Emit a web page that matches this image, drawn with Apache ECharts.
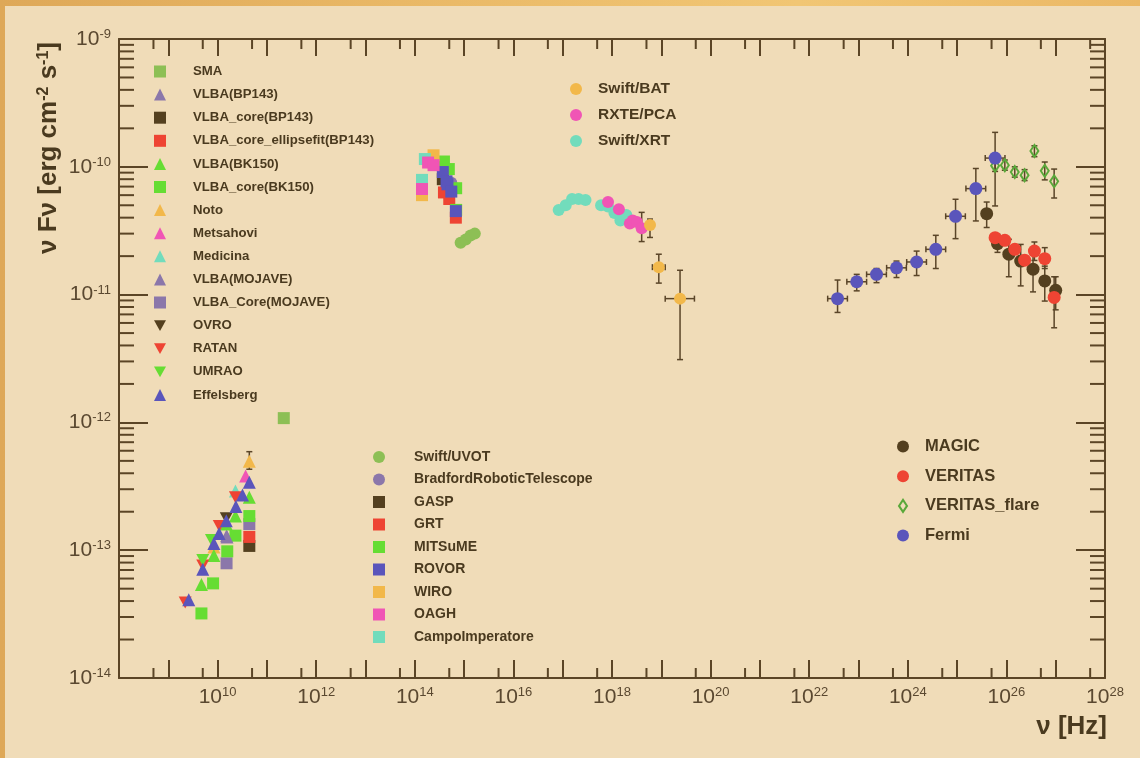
<!DOCTYPE html>
<html>
<head>
<meta charset="utf-8">
<script src="https://cdn.jsdelivr.net/npm/echarts@6/dist/echarts.min.js"></script>
<style>
  html, body { margin: 0; padding: 0; width: 1140px; height: 758px; overflow: hidden;
    background: linear-gradient(90deg, #dea858 0%, #e9b866 35%, #f1c674 70%, #ebb865 100%); }
  #chart { position: absolute; left: 5px; top: 6px; width: 1135px; height: 752px; background: #f0dcb8; }
</style>
</head>
<body>
<div id="chart"></div>
<script>
// ---- Spectral energy distribution: [nu (Hz), nuFnu (erg cm^-2 s^-1)] ----
// Rows with error bars: [nu, nuFnu, nuLow, nuHigh, fluxLow, fluxHigh] (null = no bar)

// Radio / mm
const SMA = [[2.2e11, 1.08e-12]];
const VLBA_BP143 = [[1.52e10, 1.30e-13]];
const VLBA_core_BP143 = [[4.4e10, 1.08e-13]];
const VLBA_core_ellipsefit_BP143 = [[4.4e10, 1.27e-13]];
const VLBA_BK150 = [[4.4e10, 2.6e-13], [2.3e10, 1.85e-13], [1.5e10, 1.6e-13], [8.4e9, 9.1e-14], [4.7e9, 5.4e-14]];
const VLBA_core_BK150 = [[4.4e10, 1.85e-13], [2.3e10, 1.3e-13], [1.57e10, 9.8e-14], [8.1e9, 5.5e-14], [4.7e9, 3.2e-14]];
const Noto = [[4.4e10, 4.96e-13, null, null, 4.3e-13, 5.9e-13], [8.4e9, 1.06e-13]];
const Metsahovi = [[3.7e10, 3.8e-13]];
const Medicina = [[2.3e10, 2.9e-13]];
const VLBA_MOJAVE = [[1.55e10, 1.27e-13]];
const VLBA_Core_MOJAVE = [[4.4e10, 1.6e-13], [1.52e10, 7.9e-14]];
const OVRO = [[1.5e10, 1.78e-13]];
const RATAN = [[2.3e10, 2.6e-13], [1.08e10, 1.55e-13], [5.0e9, 7.6e-14], [2.2e9, 3.9e-14]];
const UMRAO = [[7.5e9, 1.2e-13], [5.0e9, 8.4e-14]];
const Effelsberg = [[4.4e10, 3.4e-13], [3.2e10, 2.7e-13], [2.35e10, 2.2e-13], [1.5e10, 1.7e-13],
                    [1.07e10, 1.35e-13], [8.4e9, 1.13e-13], [5.0e9, 7.1e-14], [2.6e9, 4.1e-14]];

// Optical / UV
const Swift_UVOT = [[8.5e14, 2.55e-11], [1.08e15, 2.7e-11], [1.35e15, 2.9e-11], [1.65e15, 3.0e-11]];
const Bradford = [[5.5e14, 7.5e-11]];
const GASP = [[3.7e14, 8.0e-11], [4.9e14, 6.6e-11]];
const GRT = [[3.9e14, 6.3e-11], [5.0e14, 5.6e-11], [6.8e14, 4.0e-11]];
const MITSuME = [[3.9e14, 1.1e-10], [4.9e14, 9.6e-11], [6.9e14, 6.8e-11], [6.9e14, 4.6e-11]];
const ROVOR = [[3.7e14, 9.1e-11], [4.4e14, 7.7e-11], [4.6e14, 7.3e-11], [5.5e14, 6.4e-11], [6.8e14, 4.5e-11]];
const WIRO = [[2.4e14, 1.23e-10], [1.4e14, 6.0e-11]];
const OAGH = [[1.4e14, 6.7e-11], [1.86e14, 1.08e-10], [2.4e14, 1.03e-10]];
const CampoImperatore = [[1.4e14, 7.9e-11], [1.6e14, 1.15e-10]];

// X-ray
const Swift_XRT = [[8.3e16, 4.6e-11], [1.15e17, 5.0e-11], [1.55e17, 5.6e-11], [2.1e17, 5.6e-11], [2.9e17, 5.5e-11],
                   [6.0e17, 5.0e-11], [8.3e17, 4.9e-11], [1.12e18, 4.35e-11], [1.48e18, 3.8e-11], [1.95e18, 4.2e-11]];
const RXTE_PCA = [[8.3e17, 5.3e-11], [1.38e18, 4.65e-11], [2.3e18, 3.6e-11], [2.63e18, 3.8e-11], [3.2e18, 3.7e-11],
                  [4.0e18, 3.3e-11, null, null, 2.6e-11, 4.4e-11]];
const Swift_BAT = [[5.9e18, 3.5e-11, null, null, 2.8e-11, 3.9e-11],
                   [8.9e18, 1.64e-11, 6.6e18, 1.2e19, 1.23e-11, 2.07e-11],
                   [2.4e19, 9.3e-12, 1.2e19, 4.7e19, 3.1e-12, 1.55e-11]];

// Gamma-ray
const MAGIC = [[3.98e25, 4.3e-11, null, null, 3.35e-11, 5.3e-11],
               [6.6e25, 2.5e-11, null, null, 2.14e-11, 2.96e-11],
               [1.12e26, 2.07e-11, null, null, 1.38e-11, 2.71e-11],
               [1.95e26, 1.83e-11, null, null, 1.17e-11, 2.47e-11],
               [3.47e26, 1.58e-11, null, null, 1.05e-11, 2.07e-11],
               [6.0e26, 1.28e-11, null, null, 8.9e-12, 1.67e-11],
               [1.0e27, 1.08e-11, null, null, 7.6e-12, 1.38e-11]];
const VERITAS = [[5.9e25, 2.79e-11], [9.3e25, 2.66e-11], [1.48e26, 2.26e-11], [2.34e26, 1.86e-11],
                 [3.7e26, 2.19e-11, null, null, 1.85e-11, 2.58e-11],
                 [6.0e26, 1.91e-11, null, null, 1.6e-11, 2.33e-11],
                 [9.3e26, 9.5e-12, null, null, 5.5e-12, 1.38e-11]];
const VERITAS_flare = [[5.9e25, 1.02e-10, null, null, 9.2e-11, 1.13e-10],
                       [9.3e25, 1.03e-10, null, null, 9.4e-11, 1.13e-10],
                       [1.48e26, 9.1e-11, null, null, 8.3e-11, 1.0e-10],
                       [2.34e26, 8.6e-11, null, null, 7.8e-11, 9.5e-11],
                       [3.7e26, 1.33e-10, null, null, 1.2e-10, 1.46e-10],
                       [6.0e26, 9.3e-11, null, null, 7.9e-11, 1.09e-10],
                       [9.3e26, 7.7e-11, null, null, 5.7e-11, 9.6e-11]];
const Fermi = [[3.76e22, 9.3e-12, 2.37e22, 5.96e22, 7.25e-12, 1.30e-11],
               [9.2e22, 1.26e-11, 5.8e22, 1.46e23, 1.07e-11, 1.44e-11],
               [2.32e23, 1.44e-11, 1.46e23, 3.68e23, 1.24e-11, 1.60e-11],
               [5.9e23, 1.62e-11, 3.72e23, 9.35e23, 1.36e-11, 1.83e-11],
               [1.51e24, 1.80e-11, 9.5e23, 2.39e24, 1.41e-11, 2.19e-11],
               [3.7e24, 2.26e-11, 2.33e24, 5.86e24, 1.60e-11, 2.91e-11],
               [9.3e24, 4.10e-11, 5.87e24, 1.47e25, 2.74e-11, 5.57e-11],
               [2.4e25, 6.75e-11, 1.51e25, 3.80e25, 3.77e-11, 9.70e-11],
               [5.9e25, 1.17e-10, 3.72e25, 9.35e25, 4.94e-11, 1.86e-10]];

// Axis ranges (decades)
const X_MIN = 8, X_MAX = 28;     // log10(nu)
const Y_MIN = -14, Y_MAX = -9;   // log10(nuFnu)

// Legend groups
const legendRadio = ['SMA', 'VLBA(BP143)', 'VLBA_core(BP143)', 'VLBA_core_ellipsefit(BP143)', 'VLBA(BK150)',
  'VLBA_core(BK150)', 'Noto', 'Metsahovi', 'Medicina', 'VLBA(MOJAVE)', 'VLBA_Core(MOJAVE)', 'OVRO', 'RATAN', 'UMRAO', 'Effelsberg'];
const legendXray = ['Swift/BAT', 'RXTE/PCA', 'Swift/XRT'];
const legendOptical = ['Swift/UVOT', 'BradfordRoboticTelescope', 'GASP', 'GRT', 'MITSuME', 'ROVOR', 'WIRO', 'OAGH', 'CampoImperatore'];
const legendGamma = ['MAGIC', 'VERITAS', 'VERITAS_flare', 'Fermi'];

// ---- styling ----
const FONT = '"Liberation Sans", Helvetica, Arial, sans-serif';
const AXIS = '#5b4526';
const TXT = '#4a3a1f';
const ERR = '#5a4528';
const C = {
  sma: '#8dbf55', purple: '#8b77aa', dark: '#54401f', red: '#ee4433', green: '#66dd33',
  orange: '#f2b84a', pink: '#f055b5', teal: '#72dcbc', blue: '#5a55bb'
};
const DOWN = 'path://M0,0L10,0L5,9Z';
const DIAMOND = 'path://M4,0L8,6L4,12L0,6Z';

// drawing order (later on top)
const layers = [
  ['SMA', SMA, 'rect', 12, C.sma],
  ['VLBA(BP143)', VLBA_BP143, 'triangle', 13, C.purple],
  ['VLBA_core(BP143)', VLBA_core_BP143, 'rect', 12, C.dark],
  ['VLBA_core_ellipsefit(BP143)', VLBA_core_ellipsefit_BP143, 'rect', 12, C.red],
  ['Noto', Noto, 'triangle', 13, C.orange],
  ['VLBA_Core(MOJAVE)', VLBA_Core_MOJAVE, 'rect', 12, C.purple],
  ['VLBA(BK150)', VLBA_BK150, 'triangle', 13, C.green],
  ['VLBA_core(BK150)', VLBA_core_BK150, 'rect', 12, C.green],
  ['Metsahovi', Metsahovi, 'triangle', 13, C.pink],
  ['Medicina', Medicina, 'triangle', 13, C.teal],
  ['VLBA(MOJAVE)', VLBA_MOJAVE, 'triangle', 13, C.purple],
  ['OVRO', OVRO, DOWN, [13, 12], C.dark],
  ['RATAN', RATAN, DOWN, [13, 12], C.red],
  ['UMRAO', UMRAO, DOWN, [13, 12], C.green],
  ['Effelsberg', Effelsberg, 'triangle', 13, C.blue],
  ['Swift/UVOT', Swift_UVOT, 'circle', 12, C.sma],
  ['BradfordRoboticTelescope', Bradford, 'circle', 12, C.purple],
  ['GASP', GASP, 'rect', 12, C.dark],
  ['GRT', GRT, 'rect', 12, C.red],
  ['MITSuME', MITSuME, 'rect', 12, C.green],
  ['ROVOR', ROVOR, 'rect', 12, C.blue],
  ['WIRO', WIRO, 'rect', 12, C.orange],
  ['CampoImperatore', CampoImperatore, 'rect', 12, C.teal],
  ['OAGH', OAGH, 'rect', 12, C.pink],
  ['Swift/XRT', Swift_XRT, 'circle', 12, C.teal],
  ['RXTE/PCA', RXTE_PCA, 'circle', 12, C.pink],
  ['Swift/BAT', Swift_BAT, 'circle', 12, C.orange],
  ['MAGIC', MAGIC, 'circle', 13, C.dark],
  ['VERITAS', VERITAS, 'circle', 13, C.red],
  ['VERITAS_flare', VERITAS_flare, DIAMOND, [8, 12], '#5aa83a'],
  ['Fermi', Fermi, 'circle', 13, C.blue]
];

const lg = Math.log10;

// error bar rows in log space
const errRows = [];
layers.forEach(([name, rows]) => {
  rows.forEach(r => {
    if (r.length > 2) {
      const x = lg(r[0]), y = lg(r[1]);
      errRows.push([x, y,
        r[2] != null ? lg(r[2]) : x, r[3] != null ? lg(r[3]) : x,
        r[4] != null ? lg(r[4]) : y, r[5] != null ? lg(r[5]) : y]);
    }
  });
});

function renderErr(params, api) {
  const c = api.coord([api.value(0), api.value(1)]);
  const xl = api.coord([api.value(2), api.value(1)])[0];
  const xh = api.coord([api.value(3), api.value(1)])[0];
  const yl = api.coord([api.value(0), api.value(4)])[1];
  const yh = api.coord([api.value(0), api.value(5)])[1];
  const st = { stroke: ERR, lineWidth: 1.5 };
  const cap = 3;
  const ch = [];
  if (Math.abs(yl - yh) > 0.5) {
    ch.push({ type: 'line', shape: { x1: c[0], y1: yl, x2: c[0], y2: yh }, style: st });
    ch.push({ type: 'line', shape: { x1: c[0] - cap, y1: yl, x2: c[0] + cap, y2: yl }, style: st });
    ch.push({ type: 'line', shape: { x1: c[0] - cap, y1: yh, x2: c[0] + cap, y2: yh }, style: st });
  }
  if (Math.abs(xh - xl) > 0.5) {
    ch.push({ type: 'line', shape: { x1: xl, y1: c[1], x2: xh, y2: c[1] }, style: st });
    ch.push({ type: 'line', shape: { x1: xl, y1: c[1] - cap, x2: xl, y2: c[1] + cap }, style: st });
    ch.push({ type: 'line', shape: { x1: xh, y1: c[1] - cap, x2: xh, y2: c[1] + cap }, style: st });
  }
  return { type: 'group', children: ch };
}

// minor tick positions (2..9 x 10^n on y, 5 x 10^n on x)
const yMinor = [];
for (let n = Y_MIN; n < Y_MAX; n++) for (let k = 2; k <= 9; k++) yMinor.push([X_MIN, n + lg(k)]);
const xMinor = [];
for (let n = X_MIN; n < X_MAX; n++) xMinor.push([n + lg(5), Y_MIN]);

const tickStyle = { stroke: AXIS, lineWidth: 2 };

const scatterSeries = layers.map(([name, rows, symbol, size, color]) => ({
  name, type: 'scatter', z: 3,
  data: rows.map(r => [lg(r[0]), lg(r[1])]),
  symbol, symbolSize: size,
  itemStyle: symbol === DIAMOND
    ? { color: 'rgba(0,0,0,0)', borderColor: color, borderWidth: 2, opacity: 1 }
    : { color, opacity: 1 },
  emphasis: { disabled: true }
}));

function makeLegend(names, left, top, gap, fontSize, pad) {
  return {
    data: names, orient: 'vertical', left, top, padding: 0,
    itemGap: gap, itemWidth: 12, itemHeight: 12, selectedMode: false,
    textStyle: { fontFamily: FONT, fontWeight: 'bold', fontSize, color: TXT, lineHeight: 12, padding: [0, 0, 0, pad] }
  };
}

const labRich = {
  b: { fontFamily: FONT, fontSize: 21, lineHeight: 22, color: '#5a4830' },
  s: { fontFamily: FONT, fontSize: 13, lineHeight: 13, verticalAlign: 'top', color: '#5a4830' }
};

const chart = echarts.init(document.getElementById('chart'), null, { renderer: 'canvas' });
chart.setOption({
  animation: false,
  backgroundColor: '#f0dcb8',
  grid: { left: 114, top: 33, right: 35, bottom: 80, containLabel: false },
  xAxis: [{
    type: 'value', min: X_MIN, max: X_MAX, interval: 1, position: 'bottom',
    axisLine: { show: true, lineStyle: { color: AXIS, width: 2 } },
    axisTick: { show: true, inside: true, length: 18, lineStyle: { color: AXIS, width: 2 } },
    splitLine: { show: false },
    axisLabel: { margin: 8, showMinLabel: true, showMaxLabel: true, rich: labRich,
      formatter: v => (v % 2 === 0 && v > X_MIN) ? '{b|10}{s|' + v + '}' : '' }
  }, {
    type: 'value', min: X_MIN, max: X_MAX, interval: 1, position: 'top',
    axisLine: { show: true, lineStyle: { color: AXIS, width: 2 } },
    axisTick: { show: true, inside: true, length: 17, lineStyle: { color: AXIS, width: 2 } },
    splitLine: { show: false }, axisLabel: { show: false }
  }],
  yAxis: [{
    type: 'value', min: Y_MIN, max: Y_MAX, interval: 1, position: 'left',
    axisLine: { show: true, lineStyle: { color: AXIS, width: 2 } },
    axisTick: { show: true, inside: true, length: 29, lineStyle: { color: AXIS, width: 2 } },
    splitLine: { show: false },
    axisLabel: { margin: 8, showMinLabel: true, showMaxLabel: true, rich: labRich,
      formatter: v => '{b|10}{s|' + v + '}' }
  }, {
    type: 'value', min: Y_MIN, max: Y_MAX, interval: 1, position: 'right',
    axisLine: { show: true, lineStyle: { color: AXIS, width: 2 } },
    axisTick: { show: true, inside: true, length: 29, lineStyle: { color: AXIS, width: 2 } },
    splitLine: { show: false }, axisLabel: { show: false }
  }],
  legend: [
    makeLegend(legendRadio, 149, 59, 10.1, 13.2, 22),
    makeLegend(legendXray, 565, 75, 10, 15.5, 11),
    makeLegend(legendOptical, 368, 444, 8.5, 14, 24),
    makeLegend(legendGamma, 892, 432, 12.7, 16.5, 11)
  ],
  graphic: [{
    type: 'text', x: 44, y: 142, rotation: Math.PI / 2, silent: true,
    style: {
      text: 'ν Fν [erg cm{p|-2} s{p|-1}]', align: 'center', verticalAlign: 'middle',
      fontFamily: FONT, fontWeight: 'bold', fontSize: 26, fill: TXT,
      rich: { p: { fontFamily: FONT, fontWeight: 'bold', fontSize: 16, lineHeight: 16, verticalAlign: 'top', fill: TXT } }
    }
  }, {
    type: 'text', x: 1102, y: 721, silent: true,
    style: { text: 'ν [Hz]', align: 'right', verticalAlign: 'middle',
      fontFamily: FONT, fontWeight: 'bold', fontSize: 26, fill: TXT }
  }],
  series: [
    { type: 'custom', name: 'yMinorTicks', silent: true, z: 4, data: yMinor, encode: { x: 0, y: 1 },
      renderItem: (params, api) => {
        const y = api.coord([X_MIN, api.value(1)])[1];
        const cs = params.coordSys;
        return { type: 'group', children: [
          { type: 'line', shape: { x1: cs.x, y1: y, x2: cs.x + 15, y2: y }, style: tickStyle },
          { type: 'line', shape: { x1: cs.x + cs.width - 15, y1: y, x2: cs.x + cs.width, y2: y }, style: tickStyle }
        ] };
      } },
    { type: 'custom', name: 'xMinorTicks', silent: true, z: 4, data: xMinor, encode: { x: 0, y: 1 },
      renderItem: (params, api) => {
        const x = api.coord([api.value(0), Y_MIN])[0];
        const cs = params.coordSys;
        return { type: 'group', children: [
          { type: 'line', shape: { x1: x, y1: cs.y + cs.height, x2: x, y2: cs.y + cs.height - 10 }, style: tickStyle },
          { type: 'line', shape: { x1: x, y1: cs.y, x2: x, y2: cs.y + 10 }, style: tickStyle }
        ] };
      } },
    { type: 'custom', name: 'errorBars', silent: true, z: 2, data: errRows,
      dimensions: ['x', 'y', 'xl', 'xh', 'yl', 'yh'], encode: { x: 0, y: 1 }, renderItem: renderErr }
  ].concat(scatterSeries)
});
</script>
</body>
</html>
